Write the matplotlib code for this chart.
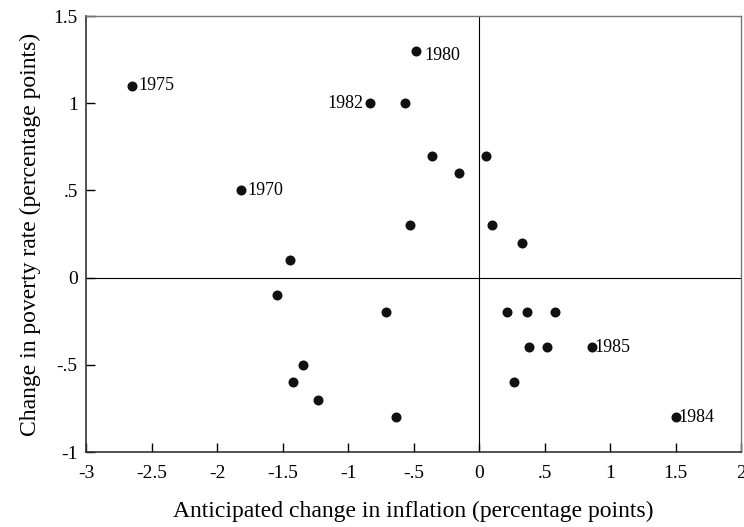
import matplotlib.pyplot as plt

plt.rcParams['font.family'] = ['Liberation Serif', 'DejaVu Serif']

# anticipated change in inflation vs change in poverty rate
infl = [-2.65, -1.82, -0.83, -0.565, -0.48, -0.36, -0.15, 0.05, -0.53, 0.10,
        0.33, -1.44, -1.54, -0.71, 0.21, 0.37, 0.58, 0.38, 0.52, 0.86,
        0.27, -1.34, -1.42, -1.23, -0.63, 1.50]
pov = [1.1, 0.5, 1.0, 1.0, 1.3, 0.7, 0.6, 0.7, 0.3, 0.3,
       0.2, 0.1, -0.1, -0.2, -0.2, -0.2, -0.2, -0.4, -0.4, -0.4,
       -0.6, -0.5, -0.6, -0.7, -0.8, -0.8]

# labelled years: (index, text, x offset pt, y offset pt, ha)
labels = [(0, '1975', 5, 0, 'left'), (1, '1970', 5, 0, 'left'),
          (2, '1982', -5, 0, 'right'), (4, '1980', 6, -3, 'left'),
          (19, '1985', 2, 0, 'left'), (25, '1984', 2, 0, 'left')]

xticks = [-3, -2.5, -2, -1.5, -1, -0.5, 0, 0.5, 1, 1.5, 2]
xticklabels = ['-3', '-2.5', '-2', '-1.5', '-1', '-.5', '0', '.5', '1', '1.5', '2']
yticks = [-1, -0.5, 0, 0.5, 1, 1.5]
yticklabels = ['-1', '-.5', '0', '.5', '1', '1.5']

fig = plt.figure(figsize=(7.44, 5.27), dpi=100)
ax = fig.add_axes([0.1156, 0.1423, 0.8804, 0.8273])

ax.axhline(0, color='black', lw=0.8, zorder=1)
ax.axvline(0, color='black', lw=0.8, zorder=1)
ax.scatter(infl, pov, s=52, color='#111111', zorder=3, linewidths=0)

for i, txt, dx, dy, ha in labels:
    ax.annotate(txt, (infl[i], pov[i]), xytext=(dx, dy), textcoords='offset points',
                ha=ha, va='center', fontsize=13)

ax.set_xlim(-3, 2)
ax.set_ylim(-1, 1.5)
ax.set_xticks(xticks)
ax.set_xticklabels(xticklabels)
ax.set_yticks(yticks)
ax.set_yticklabels(yticklabels)
ax.tick_params(direction='in', length=6.5, width=1, labelsize=14, colors='black', pad=6)
ax.tick_params(axis='x', pad=9)

for s in ['left', 'bottom']:
    ax.spines[s].set_linewidth(1.2)
    ax.spines[s].set_color('#333333')
for s in ['top', 'right']:
    ax.spines[s].set_linewidth(1.0)
    ax.spines[s].set_color('#777777')

ax.set_xlabel('Anticipated change in inflation (percentage points)', fontsize=17, labelpad=14)
ax.set_ylabel('Change in poverty rate (percentage points)', fontsize=17, labelpad=9)

fig.savefig('out.png', dpi=100)
